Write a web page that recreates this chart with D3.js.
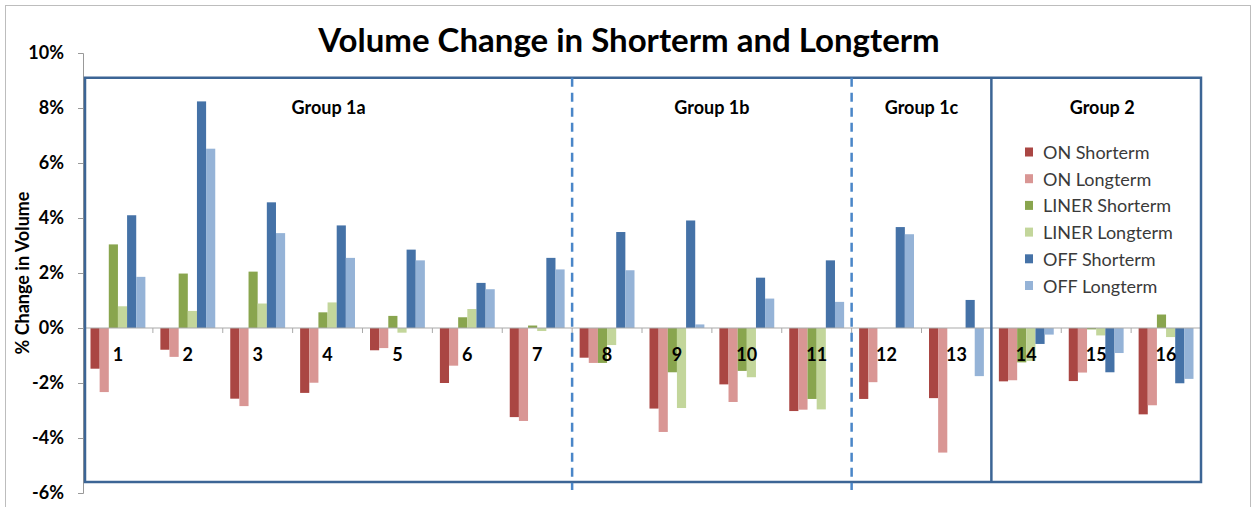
<!DOCTYPE html>
<html>
<head>
<meta charset="utf-8">
<script src="https://cdn.jsdelivr.net/npm/d3@7"></script>
<style>
  body { margin: 0; background: #fff; }
  text { font-family: Lato, "Open Sans", sans-serif; }
</style>
</head>
<body>
<svg width="1252" height="507"></svg>
<script>
// data (% change in volume)
var categories = ["1","2","3","4","5","6","7","8","9","10","11","12","13","14","15","16"];
var seriesNames = ["ON Shorterm","ON Longterm","LINER Shorterm","LINER Longterm","OFF Shorterm","OFF Longterm"];
var onShort    = [-1.48,-0.79,-2.57,-2.36,-0.81,-2.00,-3.24,-1.08,-2.93,-2.05,-3.02,-2.58,-2.55,-1.94,-1.93,-3.14];
var onLong     = [-2.33,-1.05,-2.84,-1.99,-0.73,-1.37,-3.38,-1.27,-3.78,-2.69,-2.97,-1.97,-4.53,-1.90,-1.62,-2.81];
var linerShort = [3.04,1.98,2.05,0.57,0.44,0.39,0.09,-1.27,-1.61,-1.56,-2.58,0,0,-1.25,-0.05,0.49];
var linerLong  = [0.79,0.62,0.89,0.93,-0.17,0.69,-0.11,-0.62,-2.91,-1.79,-2.96,0,0,-1.20,-0.27,-0.33];
var offShort   = [4.10,8.24,4.57,3.73,2.85,1.64,2.55,3.49,3.91,1.83,2.46,3.67,1.02,-0.58,-1.61,-2.01];
var offLong    = [1.86,6.52,3.45,2.55,2.46,1.41,2.13,2.10,0.13,1.07,0.95,3.41,-1.75,-0.24,-0.91,-1.85];
var yTicks = [-6,-4,-2,0,2,4,6,8,10];
var groupNames = ["Group 1a","Group 1b","Group 1c","Group 2"];
var groupStart = [0,7,11,13];
var groupEnd   = [7,11,13,16];

var colors = ["#aa4643","#d99694","#89a54e","#c3d69b","#4572a7","#95b3d7"];
var allSeries = [onShort, onLong, linerShort, linerLong, offShort, offLong];

var svg = d3.select("svg");

// outer chart border
svg.append("rect")
  .attr("x", 5.5).attr("y", 5.5).attr("width", 1245).attr("height", 520)
  .attr("fill", "none").attr("stroke", "#bdbdbd").attr("stroke-width", 1);

var plotL = 83, plotR = 1201, plotT = 53, plotB = 493;

var x = d3.scaleBand().domain(categories).range([plotL, plotR]).padding(0);
var x1 = d3.scaleBand().domain(d3.range(6)).range([7.5, x.bandwidth() - 7.5]).padding(0);
var y = d3.scaleLinear().domain([-6, 10]).range([plotB, plotT]);

// title
svg.append("text")
  .attr("x", 629).attr("y", 52)
  .attr("text-anchor", "middle")
  .attr("font-size", "33px")
  .attr("font-weight", "bold")
  .attr("fill", "#000")
  .text("Volume Change in Shorterm and Longterm");

// y axis
var yAxis = svg.append("g")
  .attr("transform", "translate(" + plotL + ",0)")
  .call(d3.axisLeft(y).tickValues(yTicks).tickFormat(function (d) { return d + "%"; }).tickSizeOuter(0).tickSize(5).tickPadding(14));
yAxis.select(".domain").attr("stroke", "#999");
yAxis.selectAll(".tick line").attr("stroke", "#999");
yAxis.selectAll(".tick text")
  .attr("font-size", "18px")
  .attr("font-weight", "bold")
  .attr("fill", "#000");

svg.append("text")
  .attr("transform", "translate(22," + ((plotT + plotB) / 2) + ") rotate(-90)")
  .attr("text-anchor", "middle")
  .attr("dominant-baseline", "central")
  .attr("font-size", "18px")
  .attr("font-weight", "bold")
  .attr("fill", "#000")
  .text("% Change in Volume");

// bars
var cat = svg.append("g").selectAll("g")
  .data(categories)
  .enter()
  .append("g")
  .attr("transform", function (d) { return "translate(" + x(d) + ",0)"; });

cat.selectAll("rect")
  .data(function (d, i) { return allSeries.map(function (s, k) { return { k: k, v: s[i] }; }); })
  .enter()
  .append("rect")
  .attr("x", function (d) { return x1(d.k); })
  .attr("width", x1.bandwidth())
  .attr("y", function (d) { return y(Math.max(0, d.v)); })
  .attr("height", function (d) { return Math.abs(y(d.v) - y(0)); })
  .attr("fill", function (d) { return colors[d.k]; });

// x axis line + ticks at category boundaries
var xAxis = svg.append("g")
  .attr("transform", "translate(0," + y(0) + ")");
xAxis.append("line")
  .attr("x1", plotL).attr("x2", plotR)
  .attr("stroke", "#aaa").attr("stroke-width", 1.2);
xAxis.selectAll(".tk")
  .data(categories)
  .enter()
  .append("line")
  .attr("x1", function (d) { return x(d) + x.bandwidth(); })
  .attr("x2", function (d) { return x(d) + x.bandwidth(); })
  .attr("y1", 0).attr("y2", 5)
  .attr("stroke", "#aaa");
xAxis.selectAll(".lbl")
  .data(categories)
  .enter()
  .append("text")
  .attr("x", function (d) { return x(d) + x.bandwidth() / 2; })
  .attr("y", 33)
  .attr("text-anchor", "middle")
  .attr("font-size", "18px")
  .attr("font-weight", "bold")
  .attr("fill", "#000")
  .text(function (d) { return d; });

// group boxes
var boxTop = y(9.1), boxBottom = y(-5.6);
var boxLeft = x(categories[0]) + 2;
svg.append("rect")
  .attr("x", boxLeft).attr("y", boxTop)
  .attr("width", plotR - boxLeft).attr("height", boxBottom - boxTop)
  .attr("fill", "none").attr("stroke", "#3c6595").attr("stroke-width", 2.5);

groupStart.slice(1).forEach(function (s, i) {
  var gx = x(categories[s]);
  var solid = (i === 2);
  svg.append("line")
    .attr("x1", gx).attr("x2", gx)
    .attr("y1", boxTop).attr("y2", solid ? boxBottom : boxBottom + 8)
    .attr("stroke", solid ? "#3c6595" : "#4a86c8")
    .attr("stroke-width", 2.5)
    .attr("stroke-dasharray", solid ? null : "9,6");
});

groupNames.forEach(function (g, i) {
  var x0 = x(categories[groupStart[i]]);
  var x2 = i === 3 ? plotR : x(categories[groupEnd[i]]);
  if (i === 0) x0 = boxLeft;
  svg.append("text")
    .attr("x", (x0 + x2) / 2 + (i === 3 ? 6 : 0))
    .attr("y", 114)
    .attr("text-anchor", "middle")
    .attr("font-size", "18px")
    .attr("font-weight", "bold")
    .attr("fill", "#000")
    .text(g);
});

// legend
var legend = svg.append("g").attr("transform", "translate(1025,152)");
var item = legend.selectAll("g")
  .data(seriesNames)
  .enter()
  .append("g")
  .attr("transform", function (d, i) { return "translate(0," + (i * 26.7) + ")"; });
item.append("rect")
  .attr("x", 0).attr("y", -4.5)
  .attr("width", 8).attr("height", 9)
  .attr("fill", function (d, i) { return colors[i]; });
item.append("text")
  .attr("x", 18).attr("y", 0)
  .attr("dominant-baseline", "central")
  .attr("font-size", "18px")
  .attr("fill", "#3a3a3a")
  .text(function (d) { return d; });
</script>
</body>
</html>
